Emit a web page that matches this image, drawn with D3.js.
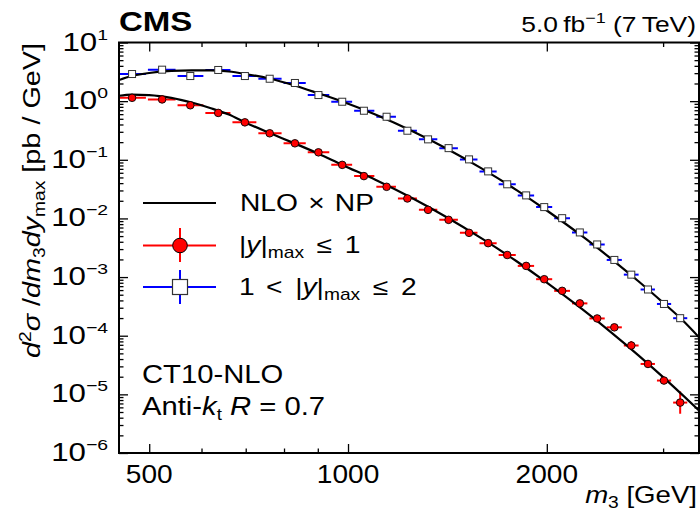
<!DOCTYPE html>
<html>
<head>
<meta charset="utf-8">
<script src="https://cdn.jsdelivr.net/npm/d3@7"></script>
<style>
  body { margin: 0; background: #fff; }
  svg text { font-family: "Liberation Sans", Arial, Helvetica, sans-serif; fill: #000; }
</style>
</head>
<body>
<svg id="chart" width="700" height="515"></svg>
<script>
// bin centres and bin edges in m3 (GeV)
const binCenters = [471, 523, 577, 636, 698, 761, 831, 902, 980, 1057, 1144, 1230, 1322, 1420,
  1525, 1630, 1742, 1861, 1982, 2110, 2244, 2384, 2531, 2685, 2846, 3009, 3184];
const binEdges = [450, 496, 550, 606, 666, 729, 796, 866, 940, 1018, 1100, 1186, 1276, 1370,
  1472, 1576, 1685, 1801, 1920, 2045, 2176, 2312, 2456, 2607, 2764, 2926, 3096, 3275];

// |y|max <= 1  (pb/GeV)
const central = [1.14, 1.07, 0.85, 0.63, 0.435, 0.283, 0.191, 0.134, 0.0819, 0.0527, 0.0346,
  0.0219, 0.0140, 0.00946, 0.00568, 0.00379, 0.00238, 0.00155, 0.00092, 0.000582, 0.000356,
  0.000197, 0.000139, 6.81e-5, 3.30e-5, 1.72e-5, 7.24e-6];
const centralErr = [0.05, 0.05, 0.05, 0.05, 0.05, 0.05, 0.05, 0.05, 0.05, 0.05, 0.05, 0.05,
  0.05, 0.05, 0.05, 0.05, 0.06, 0.06, 0.07, 0.08, 0.09, 0.1, 0.12, 0.19, 0.15, 0.15, 0.55];

// 1 < |y|max <= 2  (pb/GeV)
const forward = [2.90, 3.44, 2.68, 3.40, 2.68, 2.41, 2.04, 1.27, 0.977, 0.686, 0.542, 0.313,
  0.223, 0.158, 0.1016, 0.0634, 0.0382, 0.0247, 0.0156, 0.0101, 0.00577, 0.00360, 0.00196,
  0.00110, 0.000614, 0.000348, 0.000199];
const forwardErr = [0.05, 0.05, 0.05, 0.05, 0.05, 0.05, 0.05, 0.05, 0.05, 0.05, 0.05, 0.05,
  0.05, 0.05, 0.05, 0.05, 0.05, 0.05, 0.05, 0.05, 0.05, 0.06, 0.06, 0.07, 0.08, 0.09, 0.1];

// NLO x NP theory curves
const theoryMass = [450, 470, 500, 540, 580, 620, 660, 700, 760, 830, 900, 980, 1100, 1250,
  1400, 1600, 1800, 2000, 2250, 2500, 2750, 3000, 3200, 3400];
const theoryCentral = [1.236, 1.296, 1.271, 1.138, 0.946, 0.756, 0.590, 0.430, 0.288, 0.1905,
  0.1285, 0.0818, 0.0457, 0.02229, 0.01099, 0.00443, 0.00186, 0.000805, 0.000297, 0.0001152,
  4.67e-5, 1.966e-5, 1.008e-5, 5.33e-6];
const theoryForward = [2.29, 2.68, 3.02, 3.27, 3.34, 3.34, 3.20, 2.90, 2.43, 1.85, 1.37, 0.984,
  0.590, 0.309, 0.162, 0.0692, 0.0304, 0.01364, 0.00523, 0.00207, 0.000858, 0.000367,
  0.000191, 9.42e-5];

// axis ticks
const xMajorTicks = [500, 1000, 2000];
const xMinorTicks = [600, 700, 800, 900, 3000];
const yExponents = [1, 0, -1, -2, -3, -4, -5, -6];

const svg = d3.select('#chart');
const plotLeft = 119, plotRight = 699, plotTop = 42.5, plotBottom = 453;
const SX = 1.2; // text in the original is drawn a bit wider than Liberation Sans

const x = d3.scaleLog().domain([450, 3400]).range([plotLeft, plotRight]);
const y = d3.scaleLog().domain([1e-6, 10]).range([plotBottom, plotTop]);

function label(px, py, size, anchor, sx) {
  return svg.append('text')
    .attr('transform', `translate(${px},${py}) scale(${sx || SX},1)`)
    .attr('text-anchor', anchor || 'start')
    .style('font-size', size + 'px');
}

svg.append('defs').append('clipPath').attr('id', 'plot-clip')
  .append('rect').attr('x', plotLeft).attr('y', plotTop)
  .attr('width', plotRight - plotLeft).attr('height', plotBottom - plotTop);

// ---- axes (ticks inside, mirrored on top / right) ----
const yTickVals = y.ticks();
const isPow10 = (v) => Math.abs(Math.log10(v) - Math.round(Math.log10(v))) < 1e-9;

const yLeft = svg.append('g').attr('transform', `translate(${plotLeft},0)`)
  .call(d3.axisLeft(y).tickValues(yTickVals).tickSizeOuter(0).tickFormat(''));
const yRight = svg.append('g').attr('transform', `translate(${plotRight},0)`)
  .call(d3.axisRight(y).tickValues(yTickVals).tickSizeOuter(0).tickFormat(''));
yLeft.selectAll('.tick line').attr('x2', (d) => (isPow10(d) ? 9 : 4.5));
yRight.selectAll('.tick line').attr('x2', (d) => (isPow10(d) ? -9 : -4.5));

const xTickVals = xMajorTicks.concat(xMinorTicks);
const xBottom = svg.append('g').attr('transform', `translate(0,${plotBottom})`)
  .call(d3.axisBottom(x).tickValues(xTickVals).tickSizeOuter(0).tickFormat(''));
const xTop = svg.append('g').attr('transform', `translate(0,${plotTop})`)
  .call(d3.axisTop(x).tickValues(xTickVals).tickSizeOuter(0).tickFormat(''));
xBottom.selectAll('.tick line').attr('y2', (d) => (xMajorTicks.includes(d) ? -9 : -4.5));
xTop.selectAll('.tick line').attr('y2', (d) => (xMajorTicks.includes(d) ? 9 : 4.5));

svg.selectAll('.domain').remove();
svg.selectAll('.tick line').attr('stroke', '#000').attr('stroke-width', 1.3);

svg.append('rect')
  .attr('x', plotLeft).attr('y', plotTop)
  .attr('width', plotRight - plotLeft).attr('height', plotBottom - plotTop)
  .attr('fill', 'none').attr('stroke', '#000').attr('stroke-width', 2);

// y tick labels 10^n
const yLab = svg.append('g').selectAll('text').data(yExponents).enter().append('text')
  .attr('transform', (d) => `translate(108,${y(Math.pow(10, d)) + 8}) scale(1.25,1)`)
  .attr('text-anchor', 'end').style('font-size', '25px');
yLab.append('tspan').text('10');
yLab.append('tspan').attr('dy', -11).style('font-size', '15.5px')
  .text((d) => (d < 0 ? '\u2212' + (-d) : String(d)));

// x tick labels
svg.append('g').selectAll('text').data(xMajorTicks).enter().append('text')
  .attr('transform', (d) => `translate(${x(d)},483) scale(1.08,1)`)
  .attr('text-anchor', 'middle').style('font-size', '26px')
  .text((d) => d);

// axis titles
const xt = label(697, 503, 23, 'end');
xt.append('tspan').style('font-style', 'italic').text('m');
xt.append('tspan').attr('dy', 5).style('font-size', '16px').text('3');
xt.append('tspan').attr('dy', -5).text(' [GeV]');

const yt = svg.append('text').attr('transform', `translate(40,43) rotate(-90) scale(${SX},1)`)
  .attr('text-anchor', 'end').style('font-size', '24px');
yt.append('tspan').style('font-style', 'italic').text('d');
yt.append('tspan').attr('dy', -9).style('font-size', '16px').text('2');
yt.append('tspan').attr('dy', 9).style('font-style', 'italic').text('\u03c3');
yt.append('tspan').text(' /');
yt.append('tspan').style('font-style', 'italic').text('dm');
yt.append('tspan').attr('dy', 5).style('font-size', '16px').text('3');
yt.append('tspan').attr('dy', -5).style('font-style', 'italic').text('dy');
yt.append('tspan').attr('dy', 5).style('font-size', '16px').text('max');
yt.append('tspan').attr('dy', -5).text(' [pb / GeV]');

// header
label(119, 31, 28, 'start', 1.18).style('font-weight', 'bold').text('CMS');
const hdr = label(696, 32, 22, 'end');
hdr.append('tspan').text('5.0\u2009fb');
hdr.append('tspan').attr('dy', -9).style('font-size', '15px').text('\u22121');
hdr.append('tspan').attr('dy', 9).text(' (7\u2009TeV)');

// ---- data ----
const plot = svg.append('g').attr('clip-path', 'url(#plot-clip)');

function drawErrors(values, errs, color) {
  const g = plot.append('g').attr('stroke', color).attr('stroke-width', 2);
  g.selectAll('line.h').data(values).enter().append('line')
    .attr('x1', (d, i) => x(binEdges[i]) + 1).attr('x2', (d, i) => x(binEdges[i + 1]) - 1)
    .attr('y1', (d) => y(d)).attr('y2', (d) => y(d));
  g.selectAll('line.v').data(values).enter().append('line')
    .attr('x1', (d, i) => x(binCenters[i])).attr('x2', (d, i) => x(binCenters[i]))
    .attr('y1', (d, i) => y(d * (1 + errs[i]))).attr('y2', (d, i) => y(d / (1 + errs[i])));
}
drawErrors(central, centralErr, '#ff0000');
drawErrors(forward, forwardErr, '#0000ff');

const theoryLine = d3.line()
  .x((d) => x(d[0])).y((d) => y(d[1]))
  .curve(d3.curveMonotoneX);
[theoryCentral, theoryForward].forEach((vals) => {
  plot.append('path')
    .attr('d', theoryLine(theoryMass.map((m, i) => [m, vals[i]])))
    .attr('fill', 'none').attr('stroke', '#000').attr('stroke-width', 2.2);
});

plot.append('g').selectAll('circle').data(central).enter().append('circle')
  .attr('cx', (d, i) => x(binCenters[i])).attr('cy', (d) => y(d)).attr('r', 3.8)
  .attr('fill', '#ff0000').attr('stroke', '#000').attr('stroke-width', 0.9);

plot.append('g').selectAll('rect').data(forward).enter().append('rect')
  .attr('x', (d, i) => x(binCenters[i]) - 3.5).attr('y', (d) => y(d) - 3.5)
  .attr('width', 7).attr('height', 7)
  .attr('fill', '#fff').attr('stroke', '#333').attr('stroke-width', 1);

// ---- legend ----
const lg = svg.append('g');
lg.append('line').attr('x1', 143).attr('x2', 216).attr('y1', 203).attr('y2', 203)
  .attr('stroke', '#000').attr('stroke-width', 2.2);
const l1 = label(240, 211, 23.5, 'start');
l1.append('tspan').text('NLO ');
l1.append('tspan').attr('dx', 2).text('\u00d7');
l1.append('tspan').attr('dx', 2).text(' NP');

lg.append('line').attr('x1', 143).attr('x2', 216).attr('y1', 245.5).attr('y2', 245.5)
  .attr('stroke', '#ff0000').attr('stroke-width', 2);
lg.append('line').attr('x1', 180).attr('x2', 180).attr('y1', 228).attr('y2', 262)
  .attr('stroke', '#ff0000').attr('stroke-width', 2);
lg.append('circle').attr('cx', 180).attr('cy', 245.5).attr('r', 7.3)
  .attr('fill', '#ff0000').attr('stroke', '#000').attr('stroke-width', 1);
const l2 = label(239, 253, 23.5, 'start');
l2.append('tspan').text('|');
l2.append('tspan').style('font-style', 'italic').text('y');
l2.append('tspan').text('|');
l2.append('tspan').attr('dy', 5).style('font-size', '16px').text('max');
l2.append('tspan').attr('dy', -5).attr('dx', 4).text(' \u2264');
l2.append('tspan').attr('dx', 4).text(' 1');

lg.append('line').attr('x1', 143).attr('x2', 216).attr('y1', 287).attr('y2', 287)
  .attr('stroke', '#0000ff').attr('stroke-width', 2);
lg.append('line').attr('x1', 180).attr('x2', 180).attr('y1', 270).attr('y2', 304)
  .attr('stroke', '#0000ff').attr('stroke-width', 2);
lg.append('rect').attr('x', 172.5).attr('y', 279.5).attr('width', 15).attr('height', 15)
  .attr('fill', '#fff').attr('stroke', '#333').attr('stroke-width', 1.2);
const l3 = label(239, 295, 23.5, 'start');
l3.append('tspan').text('1 ');
l3.append('tspan').attr('dx', 3).text('<');
l3.append('tspan').attr('dx', 4).text(' |');
l3.append('tspan').style('font-style', 'italic').text('y');
l3.append('tspan').text('|');
l3.append('tspan').attr('dy', 5).style('font-size', '16px').text('max');
l3.append('tspan').attr('dy', -5).attr('dx', 4).text(' \u2264');
l3.append('tspan').attr('dx', 4).text(' 2');

// ---- annotations ----
label(142, 383, 25, 'start', 1.17).text('CT10-NLO');
const ak = label(142, 415, 25, 'start', 1.17);
ak.append('tspan').text('Anti-');
ak.append('tspan').style('font-style', 'italic').text('k');
ak.append('tspan').attr('dy', 5).style('font-size', '16px').text('t');
ak.append('tspan').attr('dy', -5).text(' ');
ak.append('tspan').style('font-style', 'italic').text('R');
ak.append('tspan').text(' = 0.7');
</script>
</body>
</html>
